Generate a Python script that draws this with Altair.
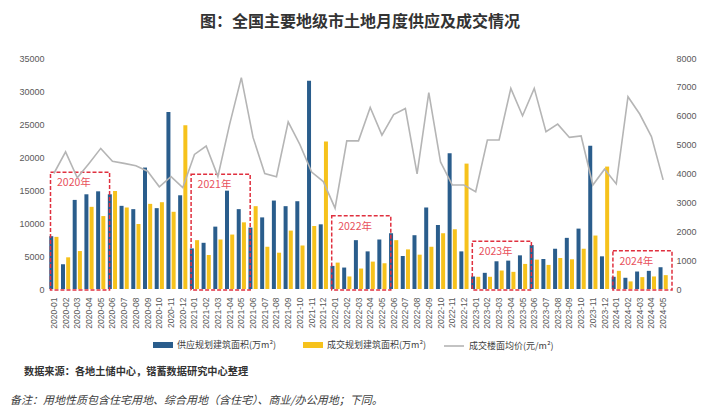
import altair as alt
import pandas as pd

months = [f"{y}-{m:02d}" for y in range(2020, 2025) for m in range(1, 13)][:53]

supply = [8000, 3750, 13500, 14350, 14800, 14350, 12600, 12100, 18400, 12250, 26800, 14200,
          6150, 7000, 9450, 14900, 12100, 9300, 10850, 13400, 12550, 13300, 31550, 9800,
          3500, 3250, 7400, 5700, 7500, 8450, 5000, 8150, 12350, 9700, 20550, 5700,
          1900, 2450, 4200, 4300, 5100, 6650, 4550, 6100, 7750, 9150, 21700, 4950,
          1850, 1700, 2650, 2750, 3300]
deal = [7900, 4800, 5750, 12450, 11050, 14850, 12350, 9850, 12900, 13150, 11700, 24800,
        7400, 5150, 7500, 8250, 10100, 12550, 6400, 5500, 8850, 6600, 9550, 22350,
        4000, 1900, 3100, 4150, 3900, 7400, 6000, 5200, 6400, 8450, 9050, 19000,
        1850, 1850, 2800, 2600, 3800, 4450, 3650, 4700, 4500, 6100, 8100, 18550,
        2750, 1150, 1800, 1900, 2100]
price = [4000, 4750, 3850, 4350, 4870, 4420, 4350, 4270, 4080, 3540, 3890, 3510,
         4660, 4950, 3900, 5700, 7320, 5250, 4000, 3890, 5790, 5000, 4050, 3720,
         2800, 5130, 5130, 6290, 5330, 6040, 6250, 3990, 6800, 4400, 3600, 3600,
         3370, 5160, 5160, 6950, 6000, 6950, 5450, 5710, 5250, 5300, 3600, 4150,
         3640, 6660, 6060, 5280, 3780]

box_labels = ["2020年", "2021年", "2022年", "2023年", "2024年"]
box_start = ["2020-01", "2021-01", "2022-01", "2023-01", "2024-01"]
box_end = ["2020-05", "2021-05", "2022-05", "2023-05", "2024-05"]
box_top = [17700, 17400, 11100, 7250, 5800]

S1 = "供应规划建筑面积(万m²)"
S2 = "成交规划建筑面积(万m²)"
S3 = "成交楼面均价(元/m²)"

title_text = "图：全国主要地级市土地月度供应及成交情况"
source_text = "数据来源：各地土储中心，锴蓄数据研究中心整理"
note_text = "备注：用地性质包含住宅用地、综合用地（含住宅）、商业/办公用地；下同。"

CJK = "Noto Sans CJK SC"
NUM = "Liberation Sans"

df = pd.DataFrame({"month": months, "supply": supply, "deal": deal, "price": price})
df_s = df.assign(series=S1)
df_d = df.assign(series=S2)
df_p = df.assign(series=S3)
boxes = pd.DataFrame({"label": box_labels, "start": box_start, "end": box_end, "top": box_top})

bar_legend = alt.Legend(
    orient="none", legendX=105, legendY=277, direction="horizontal", title=None,
    symbolType="M-1,-0.3H1V0.3H-1Z", symbolSize=400, symbolStrokeWidth=0,
    labelFont=CJK, labelFontSize=9, labelColor="#404040", labelOffset=4,
    columnPadding=26, padding=0,
)
color = alt.Color("series:N", scale=alt.Scale(domain=[S1, S2], range=["#2A5D8C", "#F6C21C"]),
                  legend=bar_legend)

line_legend = alt.Legend(
    orient="none", legendX=395, legendY=277, direction="horizontal", title=None,
    symbolType="stroke", symbolSize=400, symbolStrokeWidth=1.6,
    labelFont=CJK, labelFontSize=9, labelColor="#404040", labelOffset=4, padding=0,
)
stroke = alt.Stroke("series:N", scale=alt.Scale(domain=[S3], range=["#B5B5B5"]), legend=line_legend)

x_axis = alt.Axis(title=None, labelAngle=270, labelFontSize=8.5, labelColor="#595959",
                  labelFont=NUM, ticks=False, domain=False, labelPadding=8)
x_scale = alt.Scale(paddingInner=0, paddingOuter=0)
x = alt.X("month:N", scale=x_scale, axis=x_axis)

y_left_scale = alt.Scale(domain=[0, 35000])
y_left_axis = alt.Axis(title=None, orient="left", values=list(range(0, 35001, 5000)), grid=False,
                       ticks=False, domain=False, labelFontSize=9, labelColor="#595959",
                       labelFont=NUM, labelPadding=4, format="d")

blue = alt.Chart(df_s).mark_bar(size=4, xOffset=-2.6).encode(
    x=x, y=alt.Y("supply:Q", scale=y_left_scale, axis=y_left_axis), color=color)
yellow = alt.Chart(df_d).mark_bar(size=4, xOffset=2.6).encode(
    x=x, y=alt.Y("deal:Q", scale=y_left_scale, axis=y_left_axis), color=color)

rects = alt.Chart(boxes).mark_rect(
    fillOpacity=0, stroke="#E0303F", strokeDash=[4, 2], strokeWidth=1.5,
    xOffset=2.5, x2Offset=3).encode(
    x=alt.X("start:N", bandPosition=0, scale=x_scale, axis=x_axis),
    x2=alt.X2("end:N", bandPosition=1),
    y=alt.Y("top:Q", scale=y_left_scale, axis=y_left_axis),
    y2=alt.value(232))

rect_labels = alt.Chart(boxes).mark_text(
    align="left", baseline="middle", dx=9, dy=11, fontSize=10.5, color="#E8505B", font=CJK).encode(
    x=alt.X("start:N", bandPosition=0, scale=x_scale, axis=x_axis),
    y=alt.Y("top:Q", scale=y_left_scale, axis=y_left_axis),
    text="label:N")

ttl = alt.Chart(pd.DataFrame({"t": [title_text]})).mark_text(
    align="center", baseline="middle", fontSize=16, font=CJK, fontWeight="bold", color="#333333").encode(
    x=alt.value(312), y=alt.value(-36), text="t:N")
src = alt.Chart(pd.DataFrame({"t": [source_text]})).mark_text(
    align="left", baseline="middle", fontSize=10.2, font=CJK, fontWeight="bold", color="#333333").encode(
    x=alt.value(-24), y=alt.value(314), text="t:N")
note = alt.Chart(pd.DataFrame({"t": [note_text]})).mark_text(
    align="left", baseline="middle", fontSize=11, font=CJK, fontStyle="italic", color="#404040").encode(
    x=alt.value(-38), y=alt.value(343), text="t:N")

left = alt.layer(blue, yellow, rects, rect_labels, ttl, src, note)

line = alt.Chart(df_p).mark_line(strokeWidth=1.6).encode(
    x=x,
    y=alt.Y("price:Q", scale=alt.Scale(domain=[0, 8000]),
            axis=alt.Axis(title=None, orient="right", values=list(range(0, 8001, 1000)), grid=False,
                          ticks=False, domain=False, labelFontSize=9, labelColor="#595959",
                          labelFont=NUM, labelPadding=7, format="d")),
    stroke=stroke)

chart = alt.layer(left, line).resolve_scale(y="independent").properties(
    width=621, height=231,
    padding={"left": 40, "top": 50, "right": 40, "bottom": 119},
    autosize=alt.AutoSizeParams(type="none"),
).configure_view(stroke=None)

chart.save("out.html", embed_options={"renderer": "svg", "actions": False})
